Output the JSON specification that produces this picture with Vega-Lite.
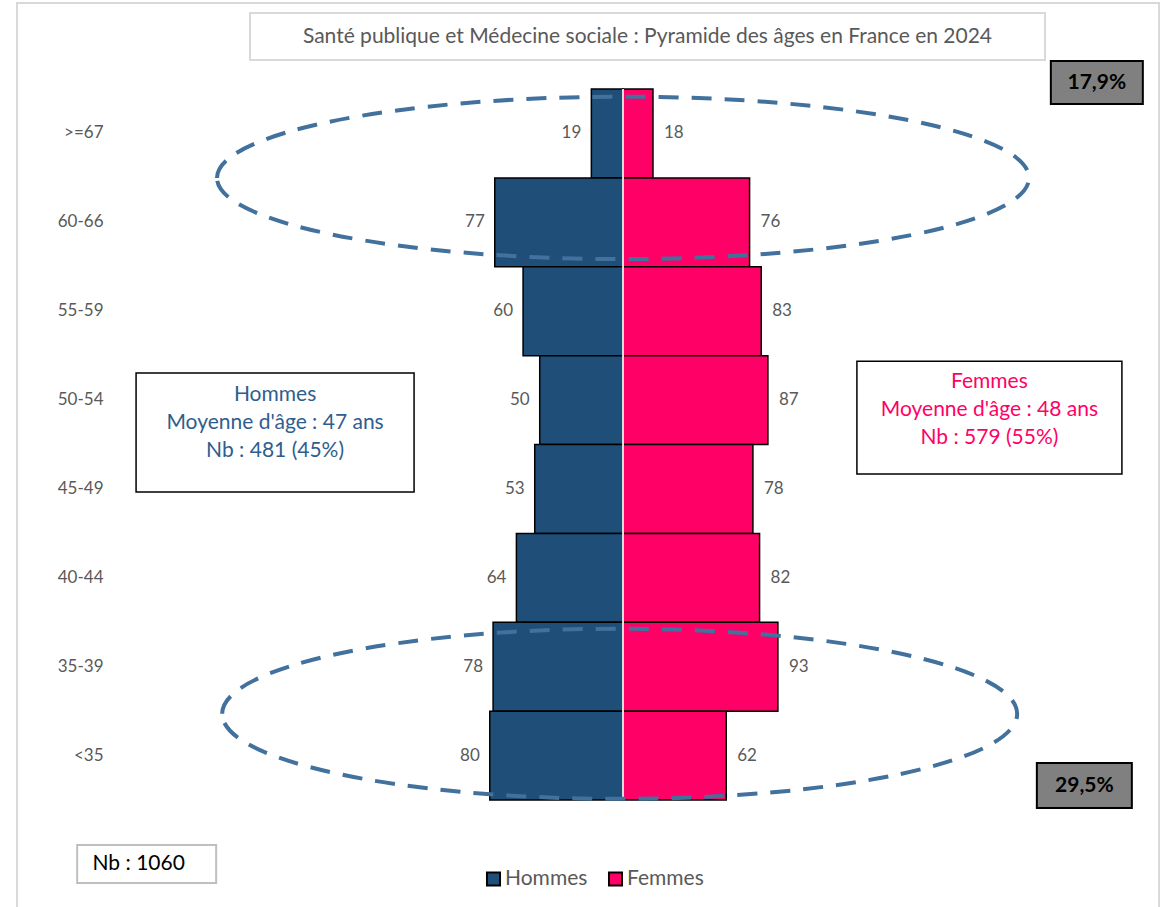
{
  "$schema": "https://vega.github.io/schema/vega-lite/v6.json",
  "width": 966,
  "height": 711,
  "autosize": {"type": "none"},
  "padding": {"left": 140, "top": 89, "right": 62, "bottom": 107},
  "background": "white",
  "config": {"font": "Lato", "view": {"stroke": null}},
  "data": {
    "values": [
      {"age": ">=67", "sexe": "Hommes", "n": 19},
      {"age": "60-66", "sexe": "Hommes", "n": 77},
      {"age": "55-59", "sexe": "Hommes", "n": 60},
      {"age": "50-54", "sexe": "Hommes", "n": 50},
      {"age": "45-49", "sexe": "Hommes", "n": 53},
      {"age": "40-44", "sexe": "Hommes", "n": 64},
      {"age": "35-39", "sexe": "Hommes", "n": 78},
      {"age": "<35", "sexe": "Hommes", "n": 80},
      {"age": ">=67", "sexe": "Femmes", "n": 18},
      {"age": "60-66", "sexe": "Femmes", "n": 76},
      {"age": "55-59", "sexe": "Femmes", "n": 83},
      {"age": "50-54", "sexe": "Femmes", "n": 87},
      {"age": "45-49", "sexe": "Femmes", "n": 78},
      {"age": "40-44", "sexe": "Femmes", "n": 82},
      {"age": "35-39", "sexe": "Femmes", "n": 93},
      {"age": "<35", "sexe": "Femmes", "n": 62}
    ]
  },
  "layer": [
    {
      "transform": [{"calculate": "datum.sexe === 'Hommes' ? -datum.n : datum.n", "as": "v"}],
      "mark": {"type": "bar", "stroke": "black", "strokeWidth": 1.5},
      "encoding": {
        "y": {
          "field": "age", "type": "nominal",
          "scale": {"domain": [">=67", "60-66", "55-59", "50-54", "45-49", "40-44", "35-39", "<35"], "paddingInner": 0, "paddingOuter": 0},
          "axis": {"title": null, "domain": false, "ticks": false, "labelPadding": 37, "labelFontSize": 17, "labelColor": "#595959", "grid": false}
        },
        "x": {
          "field": "v", "type": "quantitative",
          "scale": {"domain": [-290, 290], "nice": false},
          "axis": null
        },
        "color": {
          "field": "sexe", "type": "nominal",
          "scale": {"domain": ["Hommes", "Femmes"], "range": ["#1F4E79", "#FF0066"]},
          "legend": {
            "orient": "none", "legendX": 343, "legendY": 779, "direction": "horizontal", "title": null,
            "symbolType": "square", "symbolSize": 170,
            "symbolStrokeColor": "black", "symbolStrokeWidth": 2,
            "labelFontSize": 21, "labelColor": "#595959", "columnPadding": 16, "labelOffset": 1
          }
        }
      }
    },
    {
      "data": {"values": [{"age": ">=67"}]},
      "mark": {"type": "point", "shape": "M0,-1L0,1", "size": 505521, "filled": false, "stroke": "#dcdcdc", "strokeWidth": 2, "opacity": 1},
      "encoding": {
        "x": {"datum": 0, "type": "quantitative"},
        "y": {"field": "age", "type": "nominal", "bandPosition": 4}
      }
    },
    {
      "transform": [{"filter": "datum.sexe === 'Hommes'"}, {"calculate": "-datum.n", "as": "v"}],
      "mark": {"type": "text", "align": "right", "dx": -10, "fontSize": 17, "color": "#595959"},
      "encoding": {
        "y": {"field": "age", "type": "nominal"},
        "x": {"field": "v", "type": "quantitative"},
        "text": {"field": "n", "type": "quantitative"}
      }
    },
    {
      "transform": [{"filter": "datum.sexe === 'Femmes'"}],
      "mark": {"type": "text", "align": "left", "dx": 11, "fontSize": 17, "color": "#595959"},
      "encoding": {
        "y": {"field": "age", "type": "nominal"},
        "x": {"field": "n", "type": "quantitative"},
        "text": {"field": "n", "type": "quantitative"}
      }
    },
    {
      "data": {"values": [{"age": ">=67"}]},
      "mark": {"type": "point", "shape": "M-1,0C-1,-0.1105,-0.5523,-0.2,0,-0.2C0.5523,-0.2,1,-0.1105,1,0C1,0.1105,0.5523,0.2,0,0.2C-0.5523,0.2,-1,0.1105,-1,0Z", "size": 659344, "filled": false, "stroke": "#41719C", "strokeWidth": 4, "strokeDash": [20, 13], "opacity": 1},
      "encoding": {
        "x": {"datum": 0, "type": "quantitative"},
        "y": {"field": "age", "type": "nominal", "bandPosition": 1}
      }
    },
    {
      "data": {"values": [{"age": "35-39"}]},
      "mark": {"type": "point", "shape": "M-1,0C-1,-0.1182,-0.5523,-0.214,0,-0.214C0.5523,-0.214,1,-0.1182,1,0C1,0.1182,0.5523,0.214,0,0.214C-0.5523,0.214,-1,0.1182,-1,0Z", "size": 632025, "filled": false, "stroke": "#41719C", "strokeWidth": 4, "strokeDash": [20, 13], "opacity": 1},
      "encoding": {
        "x": {"datum": -2, "type": "quantitative"},
        "y": {"field": "age", "type": "nominal", "bandPosition": 1.03}
      }
    },
    {
      "data": {"values": [{"age": ">=67", "label": "Santé publique et Médecine sociale : Pyramide des âges en France en 2024"}]},
      "mark": {"type": "point", "shape": "M-1,-0.0591L1,-0.0591L1,0.0591L-1,0.0591Z", "size": 632025, "filled": true, "fill": "white", "stroke": "#d9d9d9", "strokeWidth": 2, "opacity": 1},
      "encoding": {
        "x": {"datum": 14.7, "type": "quantitative"},
        "y": {"field": "age", "type": "nominal", "bandPosition": -0.59}
      }
    },
    {
      "data": {"values": [{"age": ">=67", "label": "Santé publique et Médecine sociale : Pyramide des âges en France en 2024"}]},
      "mark": {"type": "text", "fontSize": 21, "color": "#595959"},
      "encoding": {
        "x": {"datum": 14.7, "type": "quantitative"},
        "y": {"field": "age", "type": "nominal", "bandPosition": -0.59},
        "text": {"field": "label", "type": "nominal"}
      }
    },
    {
      "data": {"values": [{"age": ">=67", "label": "17,9%"}]},
      "mark": {"type": "point", "shape": "M-1,-0.467L1,-0.467L1,0.467L-1,0.467Z", "size": 8464, "filled": true, "fill": "#808080", "stroke": "black", "strokeWidth": 2, "opacity": 1},
      "encoding": {
        "x": {"datum": 284.5, "type": "quantitative"},
        "y": {"field": "age", "type": "nominal", "bandPosition": -0.073}
      }
    },
    {
      "data": {"values": [{"age": ">=67", "label": "17,9%"}]},
      "mark": {"type": "text", "fontSize": 21, "fontWeight": "bold", "color": "black"},
      "encoding": {
        "x": {"datum": 284.5, "type": "quantitative"},
        "y": {"field": "age", "type": "nominal", "bandPosition": -0.073},
        "text": {"field": "label", "type": "nominal"}
      }
    },
    {
      "data": {"values": [{"age": "<35", "label": "29,5%"}]},
      "mark": {"type": "point", "shape": "M-1,-0.474L1,-0.474L1,0.474L-1,0.474Z", "size": 9025, "filled": true, "fill": "#808080", "stroke": "black", "strokeWidth": 2, "opacity": 1},
      "encoding": {
        "x": {"datum": 277, "type": "quantitative"},
        "y": {"field": "age", "type": "nominal", "bandPosition": 0.837}
      }
    },
    {
      "data": {"values": [{"age": "<35", "label": "29,5%"}]},
      "mark": {"type": "text", "fontSize": 21, "fontWeight": "bold", "color": "black"},
      "encoding": {
        "x": {"datum": 277, "type": "quantitative"},
        "y": {"field": "age", "type": "nominal", "bandPosition": 0.837},
        "text": {"field": "label", "type": "nominal"}
      }
    },
    {
      "data": {"values": [{"age": "50-54", "label": "Hommes\nMoyenne d'âge : 47 ans\nNb : 481 (45%)"}]},
      "mark": {"type": "point", "shape": "M-1,-0.428L1,-0.428L1,0.428L-1,0.428Z", "size": 77284, "filled": true, "fill": "white", "stroke": "black", "strokeWidth": 1.5, "opacity": 1},
      "encoding": {
        "x": {"datum": -208.9, "type": "quantitative"},
        "y": {"field": "age", "type": "nominal", "bandPosition": 0.865}
      }
    },
    {
      "data": {"values": [{"age": "50-54", "label": "Hommes\nMoyenne d'âge : 47 ans\nNb : 481 (45%)"}]},
      "mark": {"type": "text", "lineBreak": "\n", "fontSize": 21, "lineHeight": 28, "dy": -37.5, "color": "#2E5E8E"},
      "encoding": {
        "x": {"datum": -208.9, "type": "quantitative"},
        "y": {"field": "age", "type": "nominal", "bandPosition": 0.865},
        "text": {"field": "label", "type": "nominal"}
      }
    },
    {
      "data": {"values": [{"age": "50-54", "label": "Femmes\nMoyenne d'âge : 48 ans\nNb : 579 (55%)"}]},
      "mark": {"type": "point", "shape": "M-1,-0.426L1,-0.426L1,0.426L-1,0.426Z", "size": 70225, "filled": true, "fill": "white", "stroke": "black", "strokeWidth": 1.5, "opacity": 1},
      "encoding": {
        "x": {"datum": 220, "type": "quantitative"},
        "y": {"field": "age", "type": "nominal", "bandPosition": 0.697}
      }
    },
    {
      "data": {"values": [{"age": "50-54", "label": "Femmes\nMoyenne d'âge : 48 ans\nNb : 579 (55%)"}]},
      "mark": {"type": "text", "lineBreak": "\n", "fontSize": 21, "lineHeight": 28, "dy": -35.5, "color": "#FF0066"},
      "encoding": {
        "x": {"datum": 220, "type": "quantitative"},
        "y": {"field": "age", "type": "nominal", "bandPosition": 0.697},
        "text": {"field": "label", "type": "nominal"}
      }
    },
    {
      "data": {"values": [{"age": "<35", "label": "Nb : 1060"}]},
      "mark": {"type": "point", "shape": "M-1,-0.273L1,-0.273L1,0.273L-1,0.273Z", "size": 19321, "filled": true, "fill": "white", "stroke": "#bfbfbf", "strokeWidth": 2, "opacity": 1},
      "encoding": {
        "x": {"datum": -286, "type": "quantitative"},
        "y": {"field": "age", "type": "nominal", "bandPosition": 1.72}
      }
    },
    {
      "data": {"values": [{"age": "<35", "label": "Nb : 1060"}]},
      "mark": {"type": "text", "fontSize": 21, "dx": -8, "color": "black"},
      "encoding": {
        "x": {"datum": -286, "type": "quantitative"},
        "y": {"field": "age", "type": "nominal", "bandPosition": 1.72},
        "text": {"field": "label", "type": "nominal"}
      }
    },
    {
      "data": {"values": [{"age": ">=67"}]},
      "mark": {"type": "point", "shape": "M-1,-0.812L1,-0.812L1,0.812L-1,0.812Z", "size": 1304164, "filled": false, "stroke": "#d9d9d9", "strokeWidth": 2, "opacity": 1},
      "encoding": {
        "x": {"datum": -21, "type": "quantitative"},
        "y": {"field": "age", "type": "nominal", "bandPosition": 4.248}
      }
    }
  ]
}
